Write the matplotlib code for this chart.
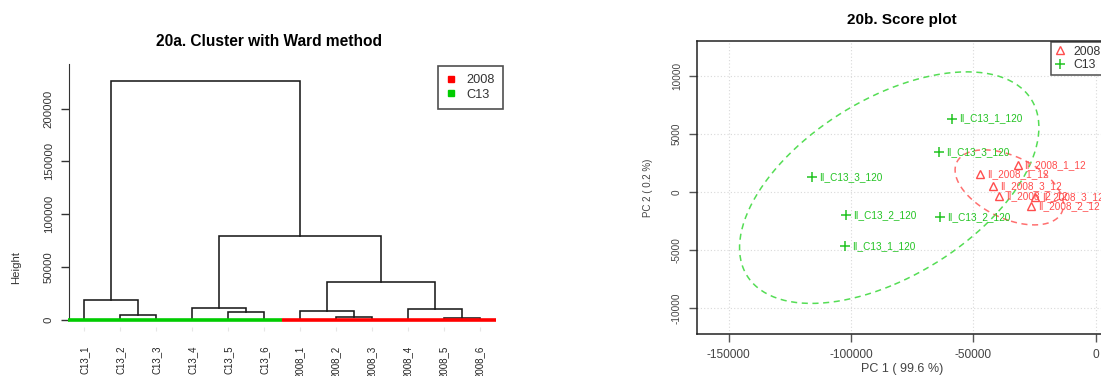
import numpy as np
import matplotlib
matplotlib.use("Agg")
from matplotlib import pyplot as plt
from matplotlib.lines import Line2D

plt.rcParams['font.family'] = ['Liberation Sans', 'DejaVu Sans']
plt.rcParams['axes.unicode_minus'] = False

W, H = 1101, 376

def fx(px): return px / W
def fy(py): return 1 - py / H

# ---- dendrogram data (Ward clustering) ----
leaf_labels = ["C13_1", "C13_2", "C13_3", "C13_4", "C13_5", "C13_6",
               "2008_1", "2008_2", "2008_3", "2008_4", "2008_5", "2008_6"]
# merges: (left node, right node, height); new nodes numbered from 12
merges = [
    (1, 2, 4500),
    (0, 12, 18500),
    (4, 5, 7100),
    (3, 14, 10600),
    (7, 8, 2600),
    (6, 16, 8300),
    (10, 11, 1700),
    (9, 18, 9700),
    (17, 19, 35500),
    (15, 20, 79400),
    (13, 21, 226300),
]
height_ticks = [0, 50000, 100000, 150000, 200000]

# ---- PCA scores ----
c13_names = ["II_C13_1_120", "II_C13_3_120", "II_C13_3_120",
             "II_C13_2_120", "II_C13_2_120", "II_C13_1_120"]
c13_pc1 = [-58700, -64100, -115800, -101900, -63500, -102300]
c13_pc2 = [6300, 3400, 1300, -2000, -2150, -4700]
y08_names = ["II_2008_1_12", "II_2008_1_12", "II_2008_3_12",
             "II_2008_2_12", "II_2008_3_12", "II_2008_2_12"]
y08_pc1 = [-31900, -47300, -42100, -39500, -24800, -26400]
y08_pc2 = [2300, 1500, 500, -350, -470, -1200]
pc1_ticks = [-150000, -100000, -50000, 0]
pc2_ticks = [-10000, -5000, 0, 5000, 10000]

RED = "#ff0000"
GREEN = "#00cc00"
PT_RED = "#ff4d4d"
PT_GREEN = "#22c322"

fig = plt.figure(figsize=(W / 100, H / 100), dpi=100)

# ================= 20a: dendrogram =================
x_lo, x_hi = 0.575, 12.6
y_lo = -7100
ax1 = fig.add_axes([fx(69), fy(327), fx(84.3 + 35.97 * (x_hi - 1)) - fx(69), fy(64) - fy(327)])
ax1.set_xlim(x_lo, x_hi)
ax1.set_ylim(y_lo, (327 - 64) / 1.055 * 1000 + y_lo)

pos = {i: (i + 1.0, 0.0) for i in range(len(leaf_labels))}
for k, (a, b, h) in enumerate(merges):
    xa, ha = pos[a]
    xb, hb = pos[b]
    ax1.plot([xa, xa, xb, xb], [ha, h, h, hb], color="#1a1a1a", lw=1.15,
             solid_joinstyle="miter")
    pos[len(leaf_labels) + k] = ((xa + xb) / 2, h)

# coloured group bar along the base
split = 6.5
ax1.plot([0.55, split], [0, 0], color=GREEN, lw=2.6, solid_capstyle="butt", clip_on=False, zorder=3)
ax1.plot([split, 12.45], [0, 0], color=RED, lw=2.6, solid_capstyle="butt", clip_on=False, zorder=3)

for s in ["top", "right", "bottom"]:
    ax1.spines[s].set_visible(False)
ax1.spines["left"].set_bounds(0, 242000)
ax1.spines["left"].set_color("#333333")
ax1.set_yticks(height_ticks)
ax1.set_yticklabels([str(v) for v in height_ticks], rotation=90, va="center")
ax1.tick_params(axis="y", length=6, width=1, colors="#333333", labelsize=8.2, pad=5)
ax1.set_xticks(np.arange(1, 13))
ax1.set_xticklabels(leaf_labels, rotation=90, va="top")
ax1.tick_params(axis="x", length=3, width=0.8, color="#e6e6e6", labelcolor="#222222",
                labelsize=7, pad=10.5)

fig.text(fx(16), fy(267), "Height", rotation=90, ha="center", va="center",
         fontsize=8.2, color="#333333")
fig.text(fx(269), fy(42), "20a. Cluster with Ward method", ha="center", va="center",
         fontsize=11.2, fontweight="bold")

h1 = [Line2D([], [], marker="s", ls="", color=RED, markersize=4.5),
      Line2D([], [], marker="s", ls="", color=GREEN, markersize=4.5)]
leg1 = fig.legend(h1, ["2008", "C13"], loc="upper left",
                  bbox_to_anchor=(fx(438), fy(66)), frameon=True, fancybox=False,
                  fontsize=9.2, handlelength=0.7, handletextpad=0.9, borderpad=0.65,
                  labelspacing=0.2, borderaxespad=0)
leg1.get_frame().set_edgecolor("#222222")
leg1.get_frame().set_linewidth(1.2)
for t in leg1.get_texts():
    t.set_color("#333333")

# ================= 20b: score plot =================
ax2 = fig.add_axes([fx(697.3), fy(334), fx(1106) - fx(697.3), fy(41) - fy(334)])
ax2.set_xlim(-162800, 4200)
ax2.set_ylim(-12240, 12980)
ax2.set_xticks(pc1_ticks)
ax2.set_yticks(pc2_ticks)
ax2.grid(True, color="#d9d9d9", lw=0.8, ls=(0, (1, 2)))
ax2.set_axisbelow(True)
ax2.set_yticklabels([str(v) for v in pc2_ticks], rotation=90, va="center")
ax2.tick_params(axis="x", length=6, width=1, color="#555555", labelcolor="#444444",
                labelsize=8.6, pad=5)
ax2.tick_params(axis="y", length=6, width=1, color="#555555", labelcolor="#444444",
                labelsize=7.2, pad=5)
for s in ax2.spines.values():
    s.set_color("#222222")
    s.set_linewidth(1.1)


def data_ellipse(xs, ys, r=np.sqrt(5.991), n=240):
    xs, ys = np.asarray(xs, float), np.asarray(ys, float)
    cov = np.cov(xs, ys)
    vals, vecs = np.linalg.eigh(cov)
    t = np.linspace(0, 2 * np.pi, n)
    circ = np.vstack([np.cos(t), np.sin(t)])
    pts = vecs @ (np.sqrt(vals)[:, None] * circ) * r
    return pts[0] + xs.mean(), pts[1] + ys.mean()


ex, ey = data_ellipse(c13_pc1, c13_pc2)
ax2.plot(ex, ey, color="#55dd55", lw=1.1, ls=(0, (4, 3)))
ex, ey = data_ellipse(y08_pc1, y08_pc2)
ax2.plot(ex, ey, color="#ff7070", lw=1.1, ls=(0, (4, 3)))

ax2.plot(c13_pc1, c13_pc2, ls="", marker="+", color=PT_GREEN, markersize=7, mew=1.1)
ax2.plot(y08_pc1, y08_pc2, ls="", marker="^", mfc="none", mec=PT_RED, markersize=6, mew=1.0)
for names, xs, ys, col in [(c13_names, c13_pc1, c13_pc2, PT_GREEN),
                           (y08_names, y08_pc1, y08_pc2, PT_RED)]:
    for name, x, y in zip(names, xs, ys):
        ax2.annotate(name, (x, y), xytext=(5, 0), textcoords="offset points",
                     ha="left", va="center", fontsize=7.2, color=col)

fig.text(fx(902), fy(369), "PC 1 ( 99.6 %)", ha="center", va="center",
         fontsize=9, color="#444444")
fig.text(fx(648), fy(188), "PC 2 ( 0.2 %)", rotation=90, ha="center", va="center",
         fontsize=7, color="#444444")
fig.text(fx(901.5), fy(20), "20b. Score plot", ha="center", va="center",
         fontsize=11, fontweight="bold")

h2 = [Line2D([], [], marker="^", ls="", mfc="none", mec=PT_RED, markersize=5.5, mew=1.0),
      Line2D([], [], marker="+", ls="", color=PT_GREEN, markersize=7, mew=1.1)]
leg2 = fig.legend(h2, ["2008", "C13"], loc="upper left",
                  bbox_to_anchor=(fx(1050.7), fy(41.5)), frameon=True, fancybox=False,
                  fontsize=8.8, handlelength=0.8, handletextpad=0.7, borderpad=0.35,
                  labelspacing=0.1, borderaxespad=0)
leg2.get_frame().set_edgecolor("#222222")
leg2.get_frame().set_linewidth(1.1)
for t in leg2.get_texts():
    t.set_color("#333333")

fig.savefig("out.png", dpi=100)
